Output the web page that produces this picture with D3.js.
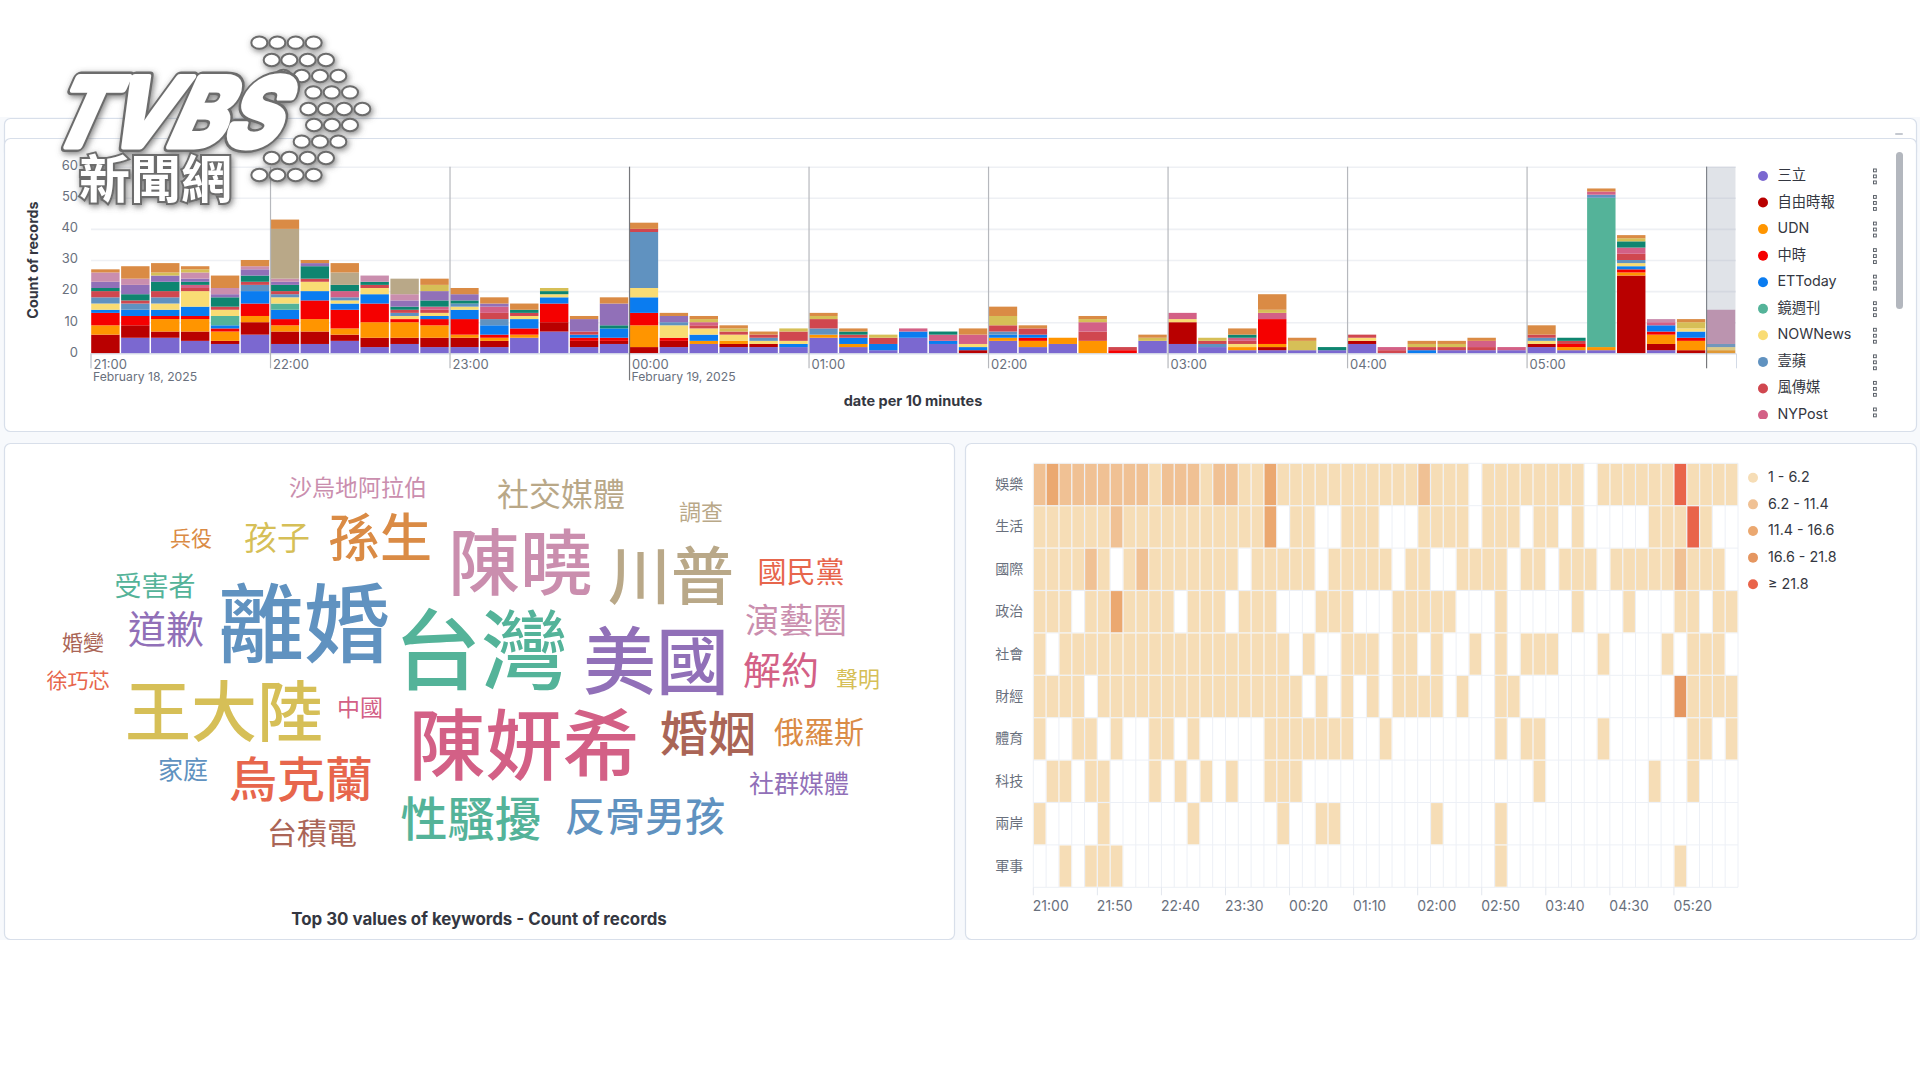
<!DOCTYPE html>
<html lang="zh-Hant">
<head>
<meta charset="utf-8">
<title>TVBS keyword dashboard</title>
<script src="https://cdn.jsdelivr.net/npm/d3@7"></script>
<style>
html,body{margin:0;padding:0;background:#fff;}
svg{display:block;}
text{font-family:Inter,"Noto Sans CJK TC",sans-serif;}
</style>
</head>
<body>
<svg id="c" width="1920" height="1080" viewBox="0 0 1920 1080"></svg>
<script>
// ---------- DATA ----------
const legendNames = ["三立","自由時報","UDN","中時","ETToday","鏡週刊","NOWNews","壹蘋","風傳媒","NYPost"];
const seriesColors = ["#7b68d0","#b90000","#ff9500","#f50000","#0a7cf0","#54b399","#f9dc74","#6092c0","#d0474f","#d36086","#0e8570","#9170b8","#ca8eae","#b9a888","#d6bf57","#da8b45"];
const binCount = 55;
// one row per 10-minute bin, one column per series (stack order)
const countsByBin = [
[0,6,3,4,1,0,2,2,2,0,1,2,3,0,0,1],
[5,4,0,3,2,0,0,2,1,0,2,3,2,0,0,4],
[5,2,4,1,2,0,2,2,2,0,3,2,0,0,1,3],
[4,3,4,1,3,0,5,0,1,1,1,1,2,0,1,1],
[3,1,3,1,1,3,2,0,1,0,3,1,2,0,0,4],
[6,4,2,4,4,0,0,2,1,0,2,2,1,0,0,2],
[3,4,2,2,3,2,2,1,1,0,2,1,1,16,0,3],
[3,4,4,6,3,0,3,0,1,0,4,1,0,0,0,1],
[4,2,2,6,2,0,1,1,0,2,2,0,0,4,0,3],
[2,3,5,6,3,0,2,0,1,0,1,0,2,0,0,0],
[3,2,5,1,0,0,1,1,1,0,1,2,2,5,0,0],
[2,3,4,2,1,0,1,0,1,1,2,3,0,0,2,2],
[2,3,1,5,3,0,1,1,0,0,1,2,0,0,0,2],
[2,2,1,1,3,0,0,2,2,2,0,1,0,0,0,2],
[5,0,1,2,3,0,1,0,1,0,1,0,0,0,0,2],
[7,3,0,6,2,0,1,0,0,0,1,0,0,0,1,0],
[2,2,0,1,1,0,0,0,1,0,0,4,0,0,0,1],
[3,1,0,1,3,0,0,0,0,0,1,7,0,0,0,2],
[0,2,7,4,5,0,3,18,1,0,0,0,0,0,0,2],
[2,2,0,1,0,0,4,1,0,0,0,2,0,0,0,1],
[3,0,1,0,2,0,2,0,1,1,0,0,0,0,1,1],
[2,1,1,0,0,0,2,0,1,0,0,0,0,0,1,1],
[2,1,0,0,0,0,1,1,1,0,0,0,0,0,0,1],
[2,0,0,0,1,0,1,0,3,0,0,0,0,0,1,0],
[5,0,1,0,0,0,0,2,3,0,0,0,0,0,1,1],
[2,0,1,0,2,0,0,0,1,0,1,0,0,0,0,1],
[1,0,0,0,2,0,0,0,2,0,0,0,0,0,1,0],
[5,0,0,0,2,0,0,0,0,1,0,0,0,0,0,0],
[3,0,0,0,1,0,0,0,0,2,1,0,0,0,0,0],
[0,1,0,0,1,0,1,0,0,3,0,0,0,0,0,2],
[4,0,1,0,1,0,0,1,2,0,0,0,0,0,3,3],
[2,0,2,1,1,0,0,0,2,0,0,0,0,0,0,1],
[3,0,2,0,0,0,0,0,0,0,0,0,0,0,0,0],
[0,0,4,0,0,0,0,0,3,3,0,0,0,0,1,1],
[0,0,0,1,0,0,0,0,1,0,0,0,0,0,0,0],
[4,0,0,0,0,0,0,0,0,0,0,0,0,0,1,1],
[3,7,0,0,0,0,1,0,0,2,0,0,0,0,0,0],
[2,0,0,0,0,0,0,1,1,0,0,0,0,0,1,0],
[1,0,1,0,0,0,1,0,1,1,1,0,0,0,0,2],
[1,1,1,8,0,0,0,0,0,2,0,0,0,0,1,5],
[1,0,0,0,0,0,0,0,0,0,0,0,0,0,3,1],
[1,0,0,0,0,0,0,0,0,0,1,0,0,0,0,0],
[3,1,0,0,0,0,1,0,1,0,0,0,0,0,0,0],
[0,0,0,0,0,0,0,0,1,1,0,0,0,0,0,0],
[0,0,0,0,1,0,0,0,1,0,0,0,0,0,1,1],
[1,0,0,0,0,0,0,0,1,0,0,0,0,0,1,1],
[1,0,0,0,0,0,0,0,1,2,0,0,0,0,0,1],
[1,0,0,0,0,0,0,0,0,1,0,0,0,0,0,0],
[2,1,0,0,0,0,1,1,1,0,0,0,0,0,0,3],
[1,0,1,1,0,0,0,0,1,0,1,0,0,0,0,0],
[1,0,1,0,0,48,0,1,0,1,0,0,0,0,0,1],
[0,25,1,1,1,0,1,1,2,2,2,0,0,0,1,1],
[1,2,3,1,2,0,0,0,0,1,0,0,1,0,0,0],
[0,1,3,1,2,0,1,0,0,0,0,0,0,0,2,1],
[0,0,1,0,0,0,1,1,0,0,0,0,11,0,0,0]
];
const yTicks = [0,10,20,30,40,50,60];
const hourLabels = ["21:00","22:00","23:00","00:00","01:00","02:00","03:00","04:00","05:00",""];

const wordList   = ["沙烏地阿拉伯","兵役","孩子","孫生","受害者","道歉","離婚","婚變","徐巧芯","王大陸","中國","家庭","烏克蘭","台積電","台灣","陳曉","陳妍希","性騷擾","社交媒體","調查","川普","國民黨","演藝圈","美國","解約","聲明","婚姻","俄羅斯","社群媒體","反骨男孩"];
const wordCounts = [23,21,33,52,27,38,86,21,21,66,23,25,48,30,87,72,77,47,32,22,63,29,34,73,38,22,48,30,25,40];
const wordColorOf = ["#ca8eae","#da8b45","#d6bf57","#da8b45","#54b399","#9170b8","#6092c0","#aa6556","#e7664c","#d6bf57","#d36086","#6092c0","#e7664c","#aa6556","#54b399","#ca8eae","#d36086","#54b399","#b9a888","#b9a888","#b9a888","#e7664c","#ca8eae","#9170b8","#d36086","#d6bf57","#aa6556","#da8b45","#9170b8","#6092c0"];
// word-cloud placement (share of the cloud box), as the original layout left it
const wordSpotX = [358,191,277,380,155,166,304,83,78,224,360,183,301,312,481,520,524,471,561,701,671,801,796,656,781,858,708,819,799,645].map(v=>(v-5)/950);
const wordSpotY = [487,538,537,537,586,629,623,642,680,711,707,769,779,833,650,562,745,818,494,512,575,572,620,660,670,679,733,732,783,816].map(v=>(v-443)/496);

const heatCategories = ["娛樂","生活","國際","政治","社會","財經","體育","科技","兩岸","軍事"];
const heatTimeLabels = ["21:00","21:50","22:40","23:30","00:20","01:10","02:00","02:50","03:40","04:30","05:20"];
const heatBreaks = [6.2,11.4,16.6,21.8];
const heatLegendLabels = ["1 - 6.2","6.2 - 11.4","11.4 - 16.6","16.6 - 21.8","≥ 21.8"];
const heatColors = ["#f6ddb6","#f0c194","#eba870","#e59660","#e9644a"];
const rowEntertainment = [8,13,8,8,8,8,8,8,8,3,8,8,8,3,8,8,3,3,14,3,3,3,3,3,3,3,3,3,3,3,8,3,3,3,0,3,3,3,3,3,3,3,3,0,3,3,3,3,3,3,25,3,3,3,3];
const rowLife          = [3,3,3,3,3,3,8,3,3,3,3,3,3,3,3,3,3,3,14,0,3,3,0,0,3,3,3,0,0,0,3,3,3,3,0,3,3,3,0,3,3,0,3,0,0,0,0,0,3,3,3,25,3,0,0];
const rowWorld         = [3,3,3,3,8,3,0,3,8,3,3,3,3,3,3,3,0,3,3,3,3,3,0,3,3,3,3,3,0,3,3,0,0,3,3,3,3,0,3,3,0,3,3,3,0,3,3,3,3,3,8,3,3,3,0];
const rowPolitics      = [3,3,3,0,3,3,14,3,3,3,3,0,3,3,3,0,3,3,3,0,0,0,3,3,3,0,0,0,3,3,3,3,3,0,0,0,3,0,0,0,0,0,3,0,0,0,3,0,0,0,3,3,0,3,3];
const rowSociety       = [3,0,3,3,3,3,3,3,3,3,3,3,3,3,3,3,3,3,3,3,0,3,0,0,3,3,3,0,3,3,0,3,0,0,3,0,3,0,3,3,3,0,0,0,3,0,0,0,0,3,0,3,3,3,0];
const rowFinance       = [3,3,3,3,0,3,3,3,3,3,3,3,3,3,3,3,3,3,3,3,3,0,3,0,3,0,3,0,3,3,3,3,0,3,0,0,3,3,0,0,0,0,0,0,0,0,0,0,0,0,18,3,3,3,3];
const rowSports        = [3,0,0,3,3,0,3,0,0,3,3,0,3,0,0,0,0,0,3,3,3,3,3,3,3,0,0,3,0,0,0,0,0,0,0,0,3,0,3,3,0,0,0,0,3,0,0,0,0,0,0,3,3,0,3];
const rowTech          = [0,3,3,0,3,3,0,0,0,3,0,3,0,3,0,3,0,0,3,3,3,0,0,0,0,0,0,0,0,0,0,0,0,0,0,0,0,0,0,3,0,0,0,0,0,0,0,0,3,0,0,3,0,0,0];
const rowCrossStrait   = [3,0,0,0,0,3,0,0,0,0,0,0,3,0,0,0,0,0,0,3,0,0,3,3,0,0,0,0,0,0,0,3,0,0,0,0,3,0,0,0,0,0,0,0,0,0,0,0,0,0,0,0,0,0,0];
const rowMilitary      = [0,0,3,0,3,3,3,0,0,0,0,0,0,0,0,0,0,0,0,0,0,0,0,0,0,0,0,0,0,0,0,0,0,0,0,0,3,0,0,0,0,0,0,0,0,0,0,0,0,0,3,0,0,0,0];
const heatRows = [rowEntertainment,rowLife,rowWorld,rowPolitics,rowSociety,rowFinance,rowSports,rowTech,rowCrossStrait,rowMilitary];

// logo dots
const logoDots = [[778,68],[832,68],[887,68],[941,68],[815,120],[868,120],[923,120],[978,120],[850,168],[905,168],[960,168],[1015,168],[940,217],[995,217],[1050,217],[925,267],[978,267],[1032,267],[1087,267],[942,315],[996,315],[1050,315],[905,365],[960,365],[1015,365],[815,414],[868,414],[923,414],[978,414],[778,465],[832,465],[887,465],[941,465]];

// ---------- SETUP ----------
const svg = d3.select("#c");
const CJK = '"Noto Sans CJK TC",Inter,sans-serif';
const INK = "#343741", MUTED = "#69707d";

svg.append("rect").attr("x",0).attr("y",117).attr("width",1920).attr("height",823).attr("fill","#f7f9fc");
function panel(x,y,w,h){
  svg.append("rect").attr("x",x+.5).attr("y",y+.5).attr("width",w).attr("height",h).attr("rx",6)
    .attr("fill","#fff").attr("stroke","#d8dfea").attr("stroke-width",1.2);
}
panel(4,118,1912,40);
svg.append("rect").attr("x",1895).attr("y",133).attr("width",8).attr("height",2).attr("rx",1).attr("fill","#c5c9d0");
panel(4,138,1912,293);
panel(4,443,950,496);
panel(965,443,951,496);

// ---------- STACKED HISTOGRAM ----------
const t0 = new Date(Date.UTC(2025,1,18,21,0));
const tAt = i => d3.utcMinute.offset(t0,i*10);
const x = d3.scaleUtc().domain([t0,tAt(binCount)]).range([90.5,1736]);
const y = d3.scaleLinear().domain([0,60]).range([353.3,166.7]);
const bars = svg.append("g");

const gy = svg.insert("g",()=>bars.node()).attr("transform","translate(91,0)")
  .call(d3.axisLeft(y).tickValues(yTicks).tickSize(-1645).tickPadding(13));
gy.select(".domain").remove();
gy.selectAll("line").attr("stroke","#eef0f4").attr("stroke-width",1.6);
gy.selectAll("text").attr("fill",MUTED).attr("font-size",13).attr("dy","0.22em").attr("font-family","Inter,sans-serif");

const hourTicks = d3.range(0,10).map(h=>tAt(h*6));
const gx = svg.append("g").attr("transform","translate(0,353.3)")
  .call(d3.axisBottom(x).tickValues(hourTicks).tickFormat((d,i)=>hourLabels[i]).tickSize(15).tickPadding(3));
gx.select(".domain").attr("stroke","#d3dae6");
gx.selectAll(".tick line")
  .attr("y1",(d,i)=>i===0?0:-186.6)
  .attr("y2",(d,i)=>(i===3)?27:15)
  .attr("stroke",(d,i)=>(i===3||i===9)?"#77787c":(i===0?"#c9ccd2":"#b6b8bd"))
  .attr("stroke-width",1.2);
gx.selectAll(".tick text").attr("text-anchor","start").attr("x",2.5).attr("y",4.5).attr("dy","0.85em")
  .attr("fill",MUTED).attr("font-size",13).attr("font-family","Inter,sans-serif");
const dateNotes = [[0,"February 18, 2025"],[3,"February 19, 2025"]];
dateNotes.forEach(([h,s])=>{
  svg.append("text").attr("x",x(hourTicks[h])+2.5).attr("y",381).attr("fill",MUTED).attr("font-size",12.2).text(s);
});

const stackGen = d3.stack().keys(d3.range(seriesColors.length)).value((row,k)=>row[k]);
const layers = stackGen(countsByBin);
const barW = x(tAt(1))-x(tAt(0));
bars.selectAll("g").data(layers).join("g").attr("fill",(d,i)=>seriesColors[i])
  .selectAll("rect").data(d=>d.map((v,i)=>({v,i})).filter(o=>o.v[1]>o.v[0])).join("rect")
  .attr("x",o=>x(tAt(o.i))+.7)
  .attr("width",barW-1.5)
  .attr("y",o=>y(o.v[1]))
  .attr("height",o=>y(o.v[0])-y(o.v[1]));

svg.append("rect").attr("x",x(hourTicks[9])).attr("y",y(60))
  .attr("width",x(tAt(binCount))-x(hourTicks[9])-.5).attr("height",y(0)-y(60))
  .attr("fill","#98a2b3").attr("opacity",.3);

svg.append("text").attr("transform","translate(38,260) rotate(-90)").attr("text-anchor","middle")
  .attr("font-size",14.3).attr("font-weight",700).attr("fill",INK).text("Count of records");
svg.append("text").attr("x",913).attr("y",406).attr("text-anchor","middle")
  .attr("font-size",14.5).attr("font-weight",700).attr("fill",INK).text("date per 10 minutes");

svg.append("clipPath").attr("id","lg").append("rect").attr("x",1750).attr("y",150).attr("width",140).attr("height",269);
const legendY = d3.scalePoint().domain(legendNames).range([176,415]);
const lg = svg.append("g").attr("clip-path","url(#lg)").selectAll("g").data(legendNames).join("g")
  .attr("transform",d=>`translate(0,${legendY(d)})`);
lg.append("circle").attr("cx",1763).attr("r",5).attr("fill",(d,i)=>seriesColors[i]);
lg.append("text").attr("x",1777.5).attr("dy","0.28em").attr("font-size",14.3).attr("fill",INK)
  .attr("font-family",'Inter,"Noto Sans CJK TC",sans-serif').text(d=>d);
lg.each(function(){
  const g=d3.select(this);
  [-7,-1,5].forEach(o=>g.append("rect").attr("x",1873.5).attr("y",o).attr("width",2.8).attr("height",2.8)
    .attr("fill","none").attr("stroke","#5a6068").attr("stroke-width",1));
});
svg.append("rect").attr("x",1896).attr("y",152).attr("width",7).attr("height",157).attr("rx",3.5).attr("fill","#b3b7be");

// ---------- WORD CLOUD ----------
const fontSize = d3.scaleLinear().domain(d3.extent(wordCounts)).range(d3.extent(wordCounts));
const wx = d3.scaleLinear().domain([0,1]).range([5,955]);
const wy = d3.scaleLinear().domain([0,1]).range([443,939]);
svg.append("g").selectAll("text").data(wordList).join("text")
  .attr("x",(d,i)=>wx(wordSpotX[i]))
  .attr("y",(d,i)=>wy(wordSpotY[i])+fontSize(wordCounts[i])*0.38)
  .attr("text-anchor","middle").attr("font-family",CJK)
  .attr("font-weight",(d,i)=>wordCounts[i]>=40?500:400)
  .attr("font-size",(d,i)=>fontSize(wordCounts[i]))
  .attr("fill",(d,i)=>wordColorOf[i]).text(d=>d);
svg.append("text").attr("x",479).attr("y",925).attr("text-anchor","middle")
  .attr("font-size",16.9).attr("font-weight",700).attr("fill",INK).text("Top 30 values of keywords - Count of records");

// ---------- HEATMAP ----------
const hx = d3.scaleBand().domain(d3.range(binCount)).range([1033.3,1738]);
const hy = d3.scaleBand().domain(heatCategories).range([463.3,887.3]);
const hc = d3.scaleThreshold().domain(heatBreaks).range(heatColors);
const hg = svg.append("g");
hg.selectAll("line.v").data(d3.range(binCount+1)).join("line").attr("class","v")
  .attr("x1",i=>1033.3+i*hx.bandwidth()).attr("x2",i=>1033.3+i*hx.bandwidth())
  .attr("y1",463.3).attr("y2",887.3).attr("stroke","#edf0f6");
hg.selectAll("line.h").data(d3.range(heatCategories.length+1)).join("line").attr("class","h")
  .attr("y1",i=>463.3+i*hy.bandwidth()).attr("y2",i=>463.3+i*hy.bandwidth())
  .attr("x1",1033.3).attr("x2",1738).attr("stroke","#edf0f6");
heatRows.forEach((row,r)=>{
  hg.append("g").selectAll("rect").data(row.map((v,c)=>({v,c})).filter(o=>o.v>0)).join("rect")
    .attr("x",o=>hx(o.c)+.6).attr("width",hx.bandwidth()-1.2)
    .attr("y",hy(heatCategories[r])+.6).attr("height",hy.bandwidth()-1.2)
    .attr("fill",o=>hc(o.v));
});
const hxa = svg.append("g").attr("transform","translate(0,887.3)")
  .call(d3.axisBottom(hx).tickValues(d3.range(0,binCount,5)).tickFormat((d,i)=>heatTimeLabels[i]).tickSize(8).tickPadding(6));
hxa.select(".domain").remove();
hxa.selectAll(".tick").attr("transform",d=>`translate(${hx(d)},0)`);
hxa.selectAll(".tick line").attr("stroke","#e3e7ee");
hxa.selectAll(".tick text").attr("text-anchor","start").attr("x",-.5).attr("y",13.5).attr("fill",MUTED).attr("font-size",14)
  .attr("font-family","Inter,sans-serif");
const hya = svg.append("g").attr("transform","translate(1033.3,0)")
  .call(d3.axisLeft(hy).tickSize(0).tickPadding(10));
hya.select(".domain").remove();
hya.selectAll("text").attr("fill",MUTED).attr("font-size",14).attr("font-family",CJK);

const hlY = d3.scalePoint().domain(heatLegendLabels).range([477.7,584.3]);
const hl = svg.append("g").selectAll("g").data(heatLegendLabels).join("g")
  .attr("transform",d=>`translate(0,${hlY(d)})`);
hl.append("circle").attr("cx",1753).attr("r",5).attr("fill",(d,i)=>heatColors[i]);
hl.append("text").attr("x",1768).attr("dy","0.3em").attr("font-size",14.3).attr("fill",INK).text(d=>d);

// ---------- LOGO ----------
const defs = svg.append("defs");
const f = defs.append("filter").attr("id","glow").attr("x","-20%").attr("y","-20%").attr("width","140%").attr("height","140%");
f.append("feDropShadow").attr("dx",1.5).attr("dy",2).attr("stdDeviation",3).attr("flood-color","#555").attr("flood-opacity",.75);
const logo = svg.append("g").attr("filter","url(#glow)");
logo.append("g").selectAll("ellipse").data(logoDots).join("ellipse")
  .attr("cx",d=>d[0]/3).attr("cy",d=>20+d[1]/3).attr("rx",8).attr("ry",6.2)
  .attr("fill","#fff").attr("stroke","#6c6c6c").attr("stroke-width",2);
const mark = logo.append("g").attr("transform","translate(45,146) skewX(-24)")
  .attr("font-family",'"DejaVu Sans",sans-serif').attr("font-weight",700).attr("font-size",94);
[["#6c6c6c",12],["#fff",7]].forEach(([c,w])=>{
  mark.append("text").attr("textLength",230).attr("lengthAdjust","spacingAndGlyphs")
    .attr("fill",c).attr("stroke",c).attr("stroke-width",w).attr("stroke-linejoin","round").text("TVBS");
});
logo.append("text").attr("x",79).attr("y",198).attr("font-family",CJK).attr("font-weight",700)
  .attr("font-size",51).attr("fill","#fff").attr("stroke","#6c6c6c").attr("stroke-width",4)
  .attr("paint-order","stroke").text("新聞網");
</script>
</body>
</html>
